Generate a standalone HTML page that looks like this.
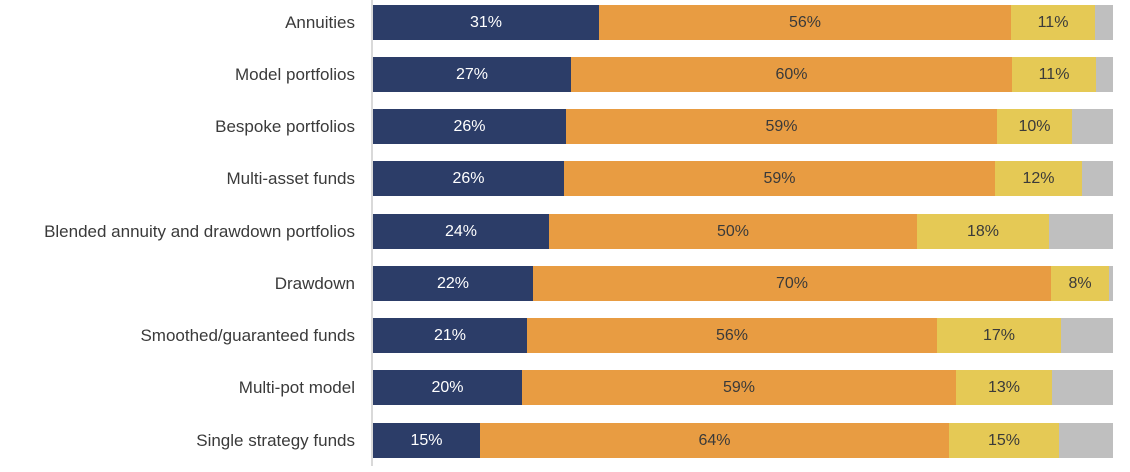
<!DOCTYPE html>
<html><head><meta charset="utf-8"><style>
html,body{margin:0;padding:0;background:#fff;}
body{width:1130px;height:472px;position:relative;overflow:hidden;font-family:"Liberation Sans",sans-serif;}
.lbl{position:absolute;right:775px;width:360px;text-align:right;font-size:17px;color:#3a3a3a;height:35px;line-height:35px;white-space:nowrap;}
.seg{position:absolute;height:35px;line-height:35px;text-align:center;font-size:16px;color:#3a3a3a;}
.n{background:#2c3d68;color:#fff;}
.o{background:#e89c42;}
.y{background:#e5c955;}
.g{background:#bfbfbf;}
.axis{position:absolute;left:371px;top:0;width:2px;height:466px;background:#d9d9d9;}
</style></head><body>
<div class="axis"></div>

<div class="lbl" style="top:5px">Annuities</div>
<div class="seg n" style="top:5px;left:373px;width:226px">31%</div>
<div class="seg o" style="top:5px;left:599px;width:412px">56%</div>
<div class="seg y" style="top:5px;left:1011px;width:84px">11%</div>
<div class="seg g" style="top:5px;left:1095px;width:18px"></div>

<div class="lbl" style="top:57px">Model portfolios</div>
<div class="seg n" style="top:57px;left:373px;width:198px">27%</div>
<div class="seg o" style="top:57px;left:571px;width:441px">60%</div>
<div class="seg y" style="top:57px;left:1012px;width:84px">11%</div>
<div class="seg g" style="top:57px;left:1096px;width:17px"></div>

<div class="lbl" style="top:109px">Bespoke portfolios</div>
<div class="seg n" style="top:109px;left:373px;width:193px">26%</div>
<div class="seg o" style="top:109px;left:566px;width:431px">59%</div>
<div class="seg y" style="top:109px;left:997px;width:75px">10%</div>
<div class="seg g" style="top:109px;left:1072px;width:41px"></div>

<div class="lbl" style="top:161px">Multi-asset funds</div>
<div class="seg n" style="top:161px;left:373px;width:191px">26%</div>
<div class="seg o" style="top:161px;left:564px;width:431px">59%</div>
<div class="seg y" style="top:161px;left:995px;width:87px">12%</div>
<div class="seg g" style="top:161px;left:1082px;width:31px"></div>

<div class="lbl" style="top:214px">Blended annuity and drawdown portfolios</div>
<div class="seg n" style="top:214px;left:373px;width:176px">24%</div>
<div class="seg o" style="top:214px;left:549px;width:368px">50%</div>
<div class="seg y" style="top:214px;left:917px;width:132px">18%</div>
<div class="seg g" style="top:214px;left:1049px;width:64px"></div>

<div class="lbl" style="top:266px">Drawdown</div>
<div class="seg n" style="top:266px;left:373px;width:160px">22%</div>
<div class="seg o" style="top:266px;left:533px;width:518px">70%</div>
<div class="seg y" style="top:266px;left:1051px;width:58px">8%</div>
<div class="seg g" style="top:266px;left:1109px;width:4px"></div>

<div class="lbl" style="top:318px">Smoothed/guaranteed funds</div>
<div class="seg n" style="top:318px;left:373px;width:154px">21%</div>
<div class="seg o" style="top:318px;left:527px;width:410px">56%</div>
<div class="seg y" style="top:318px;left:937px;width:124px">17%</div>
<div class="seg g" style="top:318px;left:1061px;width:52px"></div>

<div class="lbl" style="top:370px">Multi-pot model</div>
<div class="seg n" style="top:370px;left:373px;width:149px">20%</div>
<div class="seg o" style="top:370px;left:522px;width:434px">59%</div>
<div class="seg y" style="top:370px;left:956px;width:96px">13%</div>
<div class="seg g" style="top:370px;left:1052px;width:61px"></div>

<div class="lbl" style="top:423px">Single strategy funds</div>
<div class="seg n" style="top:423px;left:373px;width:107px">15%</div>
<div class="seg o" style="top:423px;left:480px;width:469px">64%</div>
<div class="seg y" style="top:423px;left:949px;width:110px">15%</div>
<div class="seg g" style="top:423px;left:1059px;width:54px"></div>
</body></html>
